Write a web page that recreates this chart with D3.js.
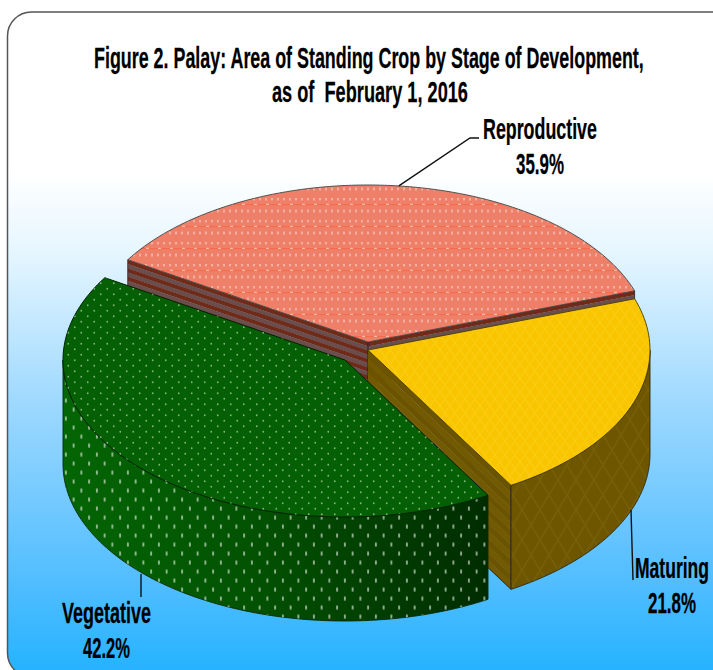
<!DOCTYPE html>
<html>
<head>
<meta charset="utf-8">
<script src="https://cdn.jsdelivr.net/npm/d3@7/dist/d3.min.js"></script>
<style>
html,body{margin:0;padding:0;background:#fff;overflow:hidden}
svg{display:block}
text{font-family:"Liberation Sans Narrow","Liberation Sans",Arial,sans-serif;font-weight:700;fill:#000;stroke:#000;stroke-width:.25;white-space:pre}
</style>
</head>
<body>
<svg id="c" width="713" height="670"></svg>
<script>
const titleLines = ["Figure 2. Palay: Area of Standing Crop by Stage of Development,", "as of  February 1, 2016"];
const categories = ["Reproductive", "Maturing", "Vegetative"];
const shares = [35.9, 21.8, 42.2];

const svg = d3.select("#c");
const defs = svg.append("defs");
const toRad = d => d * Math.PI / 180;

// Layout of the tilted pie
const RX = 282, RY = 157, DEPTH = 104;
const centers = [[368, 342], [368, 350], [345, 360]];
const sx = d3.scaleLinear().domain([-1, 1]).range([-RX, RX]);
const sy = d3.scaleLinear().domain([-1, 1]).range([-RY, RY]);
const pie = d3.pie().sort(null).value(d => d).startAngle(toRad(-58.4)).endAngle(toRad(301.6));
const arcs = pie(shares);
const line = d3.line();
const pt = (c, a, dz = 0) => [c[0] + sx(Math.sin(a)), c[1] + sy(-Math.cos(a)) + dz];
const arcPts = (c, a0, a1, dz = 0) => {
  const n = Math.max(2, Math.ceil(Math.abs(a1 - a0) / toRad(1.5)));
  return d3.range(n + 1).map(i => pt(c, a0 + (a1 - a0) * i / n, dz));
};
const topPath = (c, a) => line([c, ...arcPts(c, a.startAngle, a.endAngle)]) + "Z";
const outerPath = (c, a0, a1) =>
  line([...arcPts(c, a0, a1), ...arcPts(c, a1, a0, DEPTH)]) + "Z";

// Background
const bg = defs.append("linearGradient").attr("id", "bg").attr("x1", 0).attr("x2", 0).attr("y1", 0).attr("y2", 1);
[[0, "#ffffff"], [0.24, "#ffffff"], [0.36, "#e6f6ff"], [0.6, "#9ad7ff"], [0.86, "#50bdff"], [1, "#22b2ff"]]
  .forEach(([o, c]) => bg.append("stop").attr("offset", o).attr("stop-color", c));
svg.append("rect").attr("x", 7.5).attr("y", 12).attr("width", 740).attr("height", 665).attr("rx", 24)
  .attr("fill", "url(#bg)").attr("stroke", "#555").attr("stroke-width", 1.5);

// Textures
function dots(id, w, h, rx, ry, color, op) {
  const p = defs.append("pattern").attr("id", id).attr("patternUnits", "userSpaceOnUse").attr("width", w).attr("height", h);
  [[w / 4, h / 4], [3 * w / 4, 3 * h / 4]].forEach(([x, y]) =>
    p.append("ellipse").attr("cx", x).attr("cy", y).attr("rx", rx).attr("ry", ry).attr("fill", color).attr("opacity", op));
}
dots("dotsTopG", 13, 11, 0.9, 1, "#c4dfbc", 0.65);
dots("dotsWallG", 15.5, 18, 0.9, 2.6, "#e6eee3", 0.7);

const pr = defs.append("pattern").attr("id", "texR").attr("patternUnits", "userSpaceOnUse").attr("width", 12).attr("height", 22);
pr.append("rect").attr("width", 12).attr("height", 22).attr("fill", "#ee8069");
pr.append("rect").attr("y", 6).attr("width", 12).attr("height", 1.2).attr("fill", "#f9623f").attr("opacity", 0.7);
pr.append("rect").attr("x", 2).attr("y", 5.8).attr("width", 3).attr("height", 1.2).attr("fill", "#ffd9cc").attr("opacity", 0.7);
[[2, 1], [8, 1], [2, 13], [8, 13]].forEach(([x, y]) =>
  pr.append("ellipse").attr("cx", x).attr("cy", y).attr("rx", 1).attr("ry", 1.8).attr("fill", "#f8c8bc").attr("opacity", 0.7));

function diamonds(id, base, lineC, w, h, sw, op) {
  const p = defs.append("pattern").attr("id", id).attr("patternUnits", "userSpaceOnUse").attr("width", w).attr("height", h);
  p.append("rect").attr("width", w).attr("height", h).attr("fill", base);
  p.append("path").attr("d", `M0,0L${w},${h}M${w},0L0,${h}`).attr("stroke", lineC).attr("stroke-width", sw).attr("opacity", op).attr("fill", "none");
}
diamonds("texY", "#f8c500", "#fcd018", 10, 14, 1.5, 0.55);
diamonds("texYW", "#6e5500", "#786208", 18, 30, 1.6, 0.8);

const gGreen = defs.append("linearGradient").attr("id", "wallG").attr("gradientUnits", "userSpaceOnUse")
  .attr("x1", 60).attr("x2", 490).attr("y1", 0).attr("y2", 0);
[[0, "#046604"], [0.45, "#025202"], [1, "#002c00"]].forEach(([o, c]) => gGreen.append("stop").attr("offset", o).attr("stop-color", c));

const EDGE = "#2a2a1a";
const g = svg.append("g");
const [repA, matA, vegA] = arcs;
const [repC, matC, vegC] = centers;

// Reproductive: cut walls drawn as stacked bands following the cut edges
const bandColors = ["#702a18", "#6a4e4e"];
function bandWall(c, a) {
  const p = pt(c, a);
  const n = 10, bh = 4.2;
  d3.range(n).forEach(i => {
    g.append("path")
      .attr("d", line([[c[0], c[1] + i * bh], [p[0], p[1] + i * bh], [p[0], p[1] + (i + 1) * bh + 0.3], [c[0], c[1] + (i + 1) * bh + 0.3]]) + "Z")
      .attr("fill", bandColors[i % bandColors.length]);
  });
  g.append("path").attr("d", line([p, [p[0], p[1] + 28]])).attr("stroke", "#333").attr("stroke-width", 1).attr("fill", "none");
}
bandWall(repC, repA.endAngle);
bandWall(repC, repA.startAngle);
g.append("path").attr("d", line([repC, [repC[0], repC[1] + 40]])).attr("stroke", "#222").attr("stroke-width", 1);
g.append("path").attr("d", topPath(repC, repA)).attr("fill", "url(#texR)").attr("stroke", "#444").attr("stroke-width", 0.9);

// Maturing
const mEnd = pt(matC, matA.endAngle);
const cutBands = ["#6c5300", "#735900"];
d3.range(14).forEach(i => {
  const t0 = i / 14, t1 = (i + 1) / 14;
  g.append("path")
    .attr("d", line([[matC[0], matC[1] + DEPTH * t0], [mEnd[0], mEnd[1] + DEPTH * t0], [mEnd[0], mEnd[1] + DEPTH * t1 + .3], [matC[0], matC[1] + DEPTH * t1 + .3]]) + "Z")
    .attr("fill", cutBands[i % 2]);
});
g.append("path").attr("d", line([mEnd, [mEnd[0], mEnd[1] + DEPTH], [matC[0], matC[1] + DEPTH]]))
  .attr("fill", "none").attr("stroke", EDGE).attr("stroke-width", 0.9);
g.append("path").attr("d", outerPath(matC, toRad(90), matA.endAngle)).attr("fill", "url(#texYW)").attr("stroke", EDGE).attr("stroke-width", 0.9);
g.append("path").attr("d", topPath(matC, matA)).attr("fill", "url(#texY)").attr("stroke", "#4a3c00").attr("stroke-width", 0.9);

// Vegetative
const vPath = outerPath(vegC, vegA.startAngle, toRad(270));
g.append("path").attr("d", vPath).attr("fill", "url(#wallG)").attr("stroke", "#0a2a0a").attr("stroke-width", 0.9);
g.append("path").attr("d", vPath).attr("fill", "url(#dotsWallG)");
const vTop = topPath(vegC, vegA);
g.append("path").attr("d", vTop).attr("fill", "#056005").attr("stroke", "#012401").attr("stroke-width", 1);
g.append("path").attr("d", vTop).attr("fill", "url(#dotsTopG)");

// Leader lines
const leaders = [
  [pt(repC, (repA.startAngle + repA.endAngle) / 2), [470, 138], [479, 138]],
  [[631, 510], [633, 580]],
  [[141, 574], [141, 597]]
];
svg.selectAll(".lead").data(leaders).join("path").attr("class", "lead")
  .attr("d", d => line(d)).attr("fill", "none").attr("stroke", "#111").attr("stroke-width", 1.4);

// Text: real text squeezed horizontally to the measured extents
function label(str, x, y, len, size) {
  const t = svg.append("text").text(str).attr("font-size", size);
  const natural = t.node().getComputedTextLength();
  t.attr("transform", `translate(${x},${y}) scale(${len / natural},1)`);
}
label(titleLines[0], 94, 68, 550, 30);
label(titleLines[1], 272, 102, 196, 30);
const spots = [
  { n: [483, 139, 114], v: [516, 174, 48] },
  { n: [635, 578, 74], v: [648, 613, 48] },
  { n: [62, 623, 89], v: [83, 658, 47] }
];
categories.forEach((c, i) => {
  label(c, ...spots[i].n, 29);
  label(shares[i].toFixed(1) + "%", ...spots[i].v, 29);
});
</script>
</body>
</html>
